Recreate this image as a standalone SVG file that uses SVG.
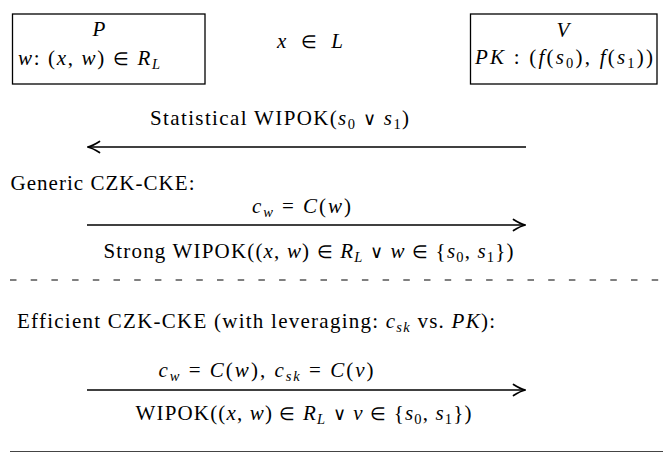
<svg xmlns="http://www.w3.org/2000/svg" width="663" height="452" viewBox="0 0 663 452">
<style>
text{font-family:"Liberation Serif","DejaVu Serif",serif;font-size:21px;fill:#000}
.it{font-style:italic}
.sub{font-size:14.5px}
.sym{font-family:"DejaVu Sans",sans-serif;font-weight:200;font-size:18px}
.box{fill:#fff;stroke:#000;stroke-width:1.3}
.arr{stroke:#000;stroke-width:1.4;fill:none}
</style>
<defs>
<marker id="ah" markerUnits="userSpaceOnUse" viewBox="-14 -7 16 14" markerWidth="16" markerHeight="14" refX="0" refY="0" orient="auto" overflow="visible">
<path d="M-12,-5.5 Q-5,-1 0,0 Q-5,1 -12,5.5" fill="none" stroke="#000" stroke-width="1.7" stroke-linecap="round"/>
</marker>
</defs>
<rect width="663" height="452" fill="#fff"/>
<g id="P">
<rect class="box" x="12.5" y="14" width="192.5" height="70"/>
<text x="99" y="36" text-anchor="middle" class="it">P</text>
<text x="18" y="65" textLength="142" lengthAdjust="spacing"><tspan class="it">w</tspan>:  (<tspan class="it">x</tspan>, <tspan class="it">w</tspan>) <tspan class="sym">∈</tspan> <tspan class="it">R</tspan><tspan class="sub it" dy="4">L</tspan></text>
</g>
<g id="L">
<text x="277" y="48" textLength="66" lengthAdjust="spacing"><tspan class="it">x</tspan> <tspan class="sym">∈</tspan> <tspan class="it">L</tspan></text>
</g>
<g id="V">
<rect class="box" x="470.5" y="14" width="186.5" height="70"/>
<text x="563" y="37" text-anchor="middle" class="it">V</text>
<text x="475" y="64" textLength="178" lengthAdjust="spacing"><tspan class="it">PK</tspan> : (<tspan class="it">f</tspan>(<tspan class="it">s</tspan><tspan class="sub" dy="4">0</tspan><tspan dy="-4">), </tspan><tspan class="it">f</tspan>(<tspan class="it">s</tspan><tspan class="sub" dy="4">1</tspan><tspan dy="-4">))</tspan></text>
</g>
<g id="labels">
<text x="150" y="125" textLength="259" lengthAdjust="spacing">Statistical WIPOK(<tspan class="it">s</tspan><tspan class="sub" dy="4">0</tspan><tspan dy="-4"> </tspan><tspan class="sym">∨</tspan> <tspan class="it">s</tspan><tspan class="sub" dy="4">1</tspan><tspan dy="-4">)</tspan></text>
<text x="10.5" y="190" textLength="184" lengthAdjust="spacing">Generic CZK-CKE:</text>
<text x="252" y="213" textLength="99" lengthAdjust="spacing"><tspan class="it">c</tspan><tspan class="sub it" dy="4">w</tspan><tspan dy="-4"> = </tspan><tspan class="it">C</tspan>(<tspan class="it">w</tspan>)</text>
<text x="103.5" y="258" textLength="410" lengthAdjust="spacing">Strong WIPOK((<tspan class="it">x</tspan>, <tspan class="it">w</tspan>) <tspan class="sym">∈</tspan> <tspan class="it">R</tspan><tspan class="sub it" dy="4">L</tspan><tspan dy="-4"> </tspan><tspan class="sym">∨</tspan> <tspan class="it">w</tspan> <tspan class="sym">∈</tspan> {<tspan class="it">s</tspan><tspan class="sub" dy="4">0</tspan><tspan dy="-4">, </tspan><tspan class="it">s</tspan><tspan class="sub" dy="4">1</tspan><tspan dy="-4">})</tspan></text>
<text x="17" y="328" textLength="478" lengthAdjust="spacing">Efficient CZK-CKE (with leveraging: <tspan class="it">c</tspan><tspan class="sub it" dy="4">sk</tspan><tspan dy="-4"> vs. </tspan><tspan class="it">PK</tspan>):</text>
<text x="158.5" y="377" textLength="215" lengthAdjust="spacing"><tspan class="it">c</tspan><tspan class="sub it" dy="4">w</tspan><tspan dy="-4"> = </tspan><tspan class="it">C</tspan>(<tspan class="it">w</tspan>), <tspan class="it">c</tspan><tspan class="sub it" dy="4">sk</tspan><tspan dy="-4"> = </tspan><tspan class="it">C</tspan>(<tspan class="it">v</tspan>)</text>
<text x="135.5" y="420" textLength="336" lengthAdjust="spacing">WIPOK((<tspan class="it">x</tspan>, <tspan class="it">w</tspan>) <tspan class="sym">∈</tspan> <tspan class="it">R</tspan><tspan class="sub it" dy="4">L</tspan><tspan dy="-4"> </tspan><tspan class="sym">∨</tspan> <tspan class="it">v</tspan> <tspan class="sym">∈</tspan> {<tspan class="it">s</tspan><tspan class="sub" dy="4">0</tspan><tspan dy="-4">, </tspan><tspan class="it">s</tspan><tspan class="sub" dy="4">1</tspan><tspan dy="-4">})</tspan></text>
</g>
<g id="connectors">
<line class="arr" x1="526" y1="147" x2="87.5" y2="147" marker-end="url(#ah)"/>
<line class="arr" x1="87" y1="225" x2="525.5" y2="225" marker-end="url(#ah)"/>
<line class="arr" x1="87" y1="390" x2="525.5" y2="390" marker-end="url(#ah)"/>
</g>
<g id="separators">
<line x1="10" y1="280" x2="663" y2="280" stroke="#000" stroke-width="1.2" stroke-dasharray="6.5 14.2"/>
<line x1="10" y1="451.5" x2="663" y2="451.5" stroke="#444" stroke-width="1.2"/>
</g>
</svg>
